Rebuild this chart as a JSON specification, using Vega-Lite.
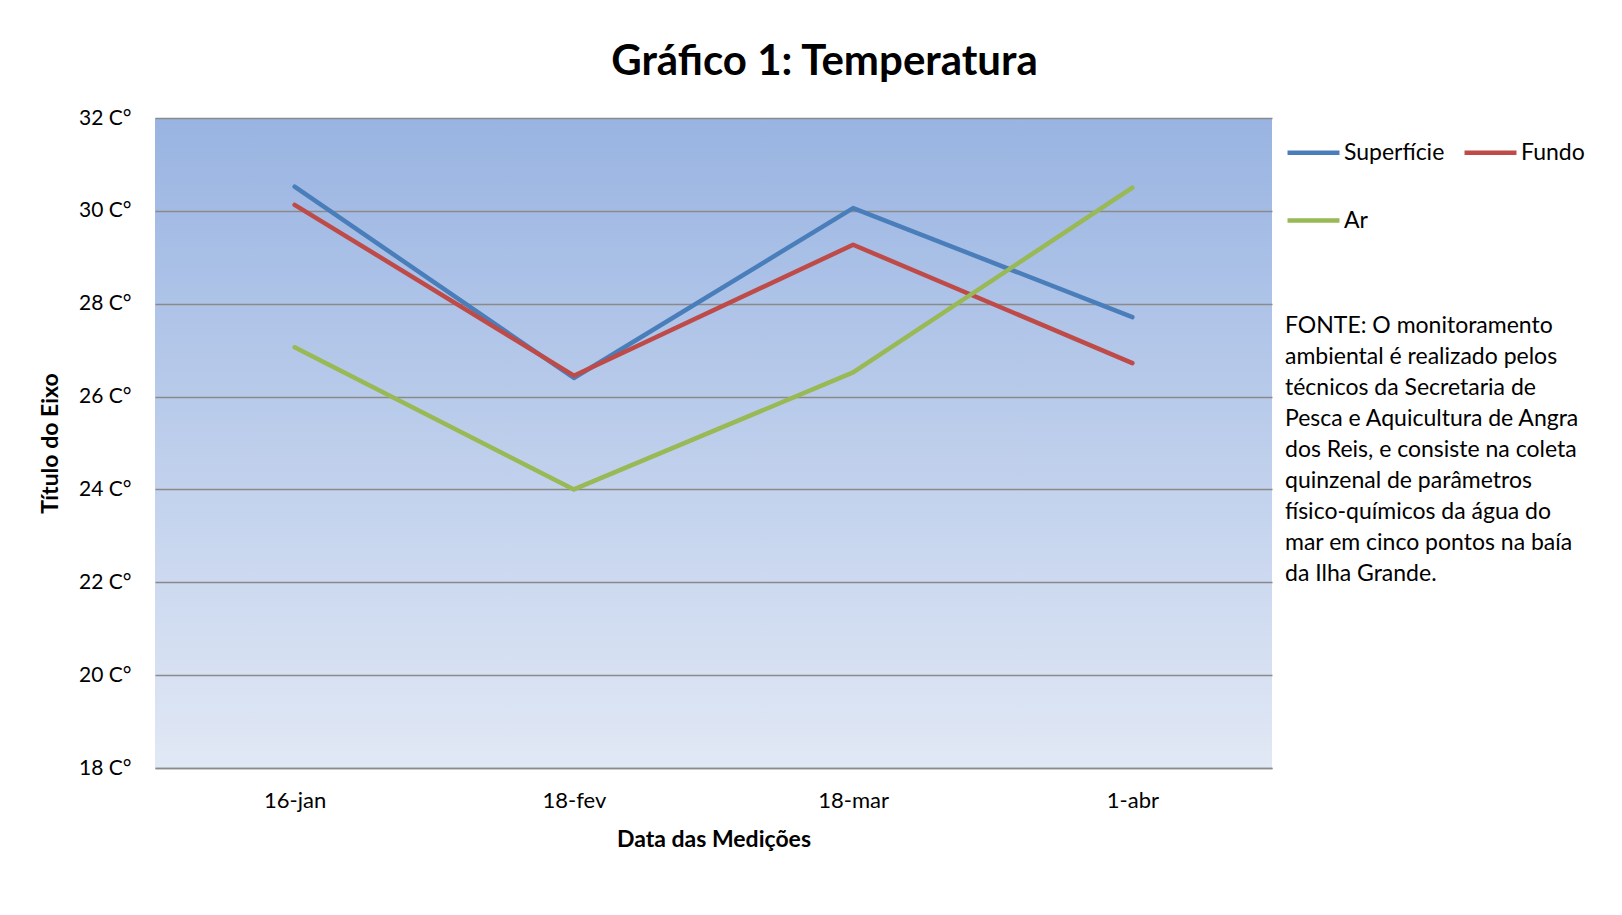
{
  "$schema": "https://vega.github.io/schema/vega-lite/v6.json",
  "width": 1117,
  "height": 650,
  "autosize": {"type": "none"},
  "padding": {"left": 155, "top": 118, "right": 350, "bottom": 147},
  "background": "white",
  "title": {
    "text": "Gráfico 1: Temperatura",
    "font": "Lato",
    "fontSize": 42,
    "fontWeight": "bold",
    "color": "black",
    "anchor": "middle",
    "frame": "group",
    "dx": 111,
    "offset": 23
  },
  "data": {
    "values": [
      {"data": "16-jan", "serie": "Superfície", "temperatura": 30.52},
      {"data": "18-fev", "serie": "Superfície", "temperatura": 26.4},
      {"data": "18-mar", "serie": "Superfície", "temperatura": 30.06},
      {"data": "1-abr", "serie": "Superfície", "temperatura": 27.71},
      {"data": "16-jan", "serie": "Fundo", "temperatura": 30.13},
      {"data": "18-fev", "serie": "Fundo", "temperatura": 26.45},
      {"data": "18-mar", "serie": "Fundo", "temperatura": 29.27},
      {"data": "1-abr", "serie": "Fundo", "temperatura": 26.72},
      {"data": "16-jan", "serie": "Ar", "temperatura": 27.06},
      {"data": "18-fev", "serie": "Ar", "temperatura": 24.0},
      {"data": "18-mar", "serie": "Ar", "temperatura": 26.52},
      {"data": "1-abr", "serie": "Ar", "temperatura": 30.5}
    ]
  },
  "mark": {"type": "line", "strokeWidth": 4.5, "strokeCap": "round", "strokeJoin": "round"},
  "encoding": {
    "x": {
      "field": "data",
      "type": "ordinal",
      "sort": ["16-jan", "18-fev", "18-mar", "1-abr"],
      "scale": {"type": "point", "padding": 0.5},
      "axis": {
        "labelAngle": 0,
        "labelFontSize": 22,
        "labelColor": "black",
        "labelPadding": 22,
        "ticks": false,
        "domain": true,
        "domainColor": "#8a8a8a",
        "domainWidth": 1.5,
        "grid": false,
        "title": "Data das Medições",
        "titleFontSize": 23,
        "titleFontWeight": "bold",
        "titleColor": "black",
        "titleX": 558.5,
        "titleY": 71,
        "titleAlign": "center",
        "titleBaseline": "middle"
      }
    },
    "y": {
      "field": "temperatura",
      "type": "quantitative",
      "scale": {"domain": [18, 32], "nice": false, "zero": false},
      "axis": {
        "values": [18, 20, 22, 24, 26, 28, 30, 32],
        "labelExpr": "datum.value + ' C°'",
        "labelFontSize": 21,
        "labelColor": "black",
        "labelPadding": 24,
        "labelFlush": false,
        "labelOverlap": false,
        "ticks": false,
        "domain": false,
        "grid": true,
        "gridColor": "#8a8a8a",
        "gridWidth": 1.5,
        "title": "Título do Eixo",
        "titleFontSize": 23,
        "titleFontWeight": "bold",
        "titleColor": "black",
        "titleX": -105,
        "titleY": 325,
        "titleAngle": -90,
        "titleAlign": "center",
        "titleBaseline": "middle"
      }
    },
    "color": {
      "field": "serie",
      "type": "nominal",
      "sort": ["Superfície", "Fundo", "Ar"],
      "scale": {"domain": ["Superfície", "Fundo", "Ar"], "range": ["#4a7ebb", "#be4b48", "#98b954"]},
      "legend": {
        "orient": "none",
        "legendX": 1130,
        "legendY": 6,
        "direction": "horizontal",
        "columns": 2,
        "symbolType": "stroke",
        "symbolSize": 2700,
        "symbolStrokeWidth": 4.5,
        "labelFontSize": 23,
        "labelColor": "black",
        "labelOffset": 2,
        "columnPadding": 10,
        "rowPadding": 27,
        "title": [
          "FONTE: O monitoramento",
          "ambiental é realizado pelos",
          "técnicos da Secretaria de",
          "Pesca e Aquicultura de Angra",
          "dos Reis, e consiste na coleta",
          "quinzenal de parâmetros",
          "físico-químicos da água do",
          "mar em cinco pontos na baía",
          "da Ilha Grande."
        ],
        "titleOrient": "bottom",
        "titleAnchor": "start",
        "titleFontSize": 23,
        "titleFontWeight": "normal",
        "titleColor": "black",
        "titleLineHeight": 31,
        "titlePadding": 82,
        "titleLimit": 500
      }
    }
  },
  "config": {
    "font": "Lato",
    "view": {
      "stroke": null,
      "fill": {
        "gradient": "linear",
        "x1": 0, "y1": 0, "x2": 0, "y2": 1,
        "stops": [
          {"offset": 0, "color": "#99b4e2"},
          {"offset": 1, "color": "#e1e8f5"}
        ]
      }
    }
  }
}
